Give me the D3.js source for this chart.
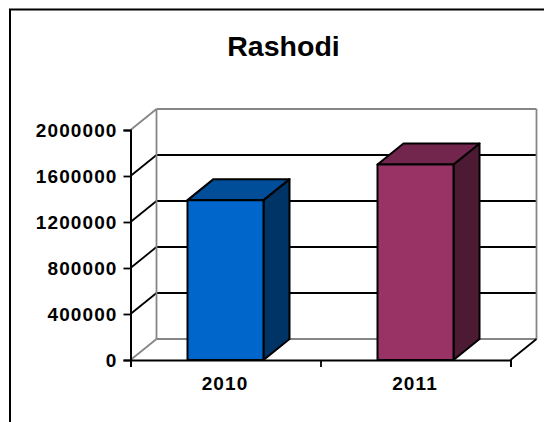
<!DOCTYPE html>
<html>
<head>
<meta charset="utf-8">
<script src="https://cdn.jsdelivr.net/npm/d3@7/dist/d3.min.js"></script>
<style>
  html, body { margin: 0; padding: 0; background: #fff; overflow: hidden; }
  svg { display: block; }
  text { font-family: "Liberation Sans", Arial, sans-serif; font-weight: bold; fill: #000; }
</style>
</head>
<body>
<div id="vis"></div>
<script>
// chart data
const YEARS = ["2010", "2011"];
const VALUES = [1390000, 1700000];
const Y_TICKS = [0, 400000, 800000, 1200000, 1600000, 2000000];
const TITLE = "Rashodi";

const FRONT_COLORS = ["#0066cc", "#993366"];
const TOP_COLORS = ["#004d99", "#73264d"];
const SIDE_COLORS = ["#003366", "#4d1a33"];

// set constants
const FRAME_WIDTH = 544;
const FRAME_HEIGHT = 422;
const PLOT = {left: 130.5, right: 510.5, top: 130, bottom: 360};
const DEPTH = {x: 26, y: -21};

const FRAME = d3.select("#vis")
  .append("svg")
    .attr("width", FRAME_WIDTH)
    .attr("height", FRAME_HEIGHT);

const X_SCALE = d3.scaleBand()
  .domain(YEARS)
  .range([PLOT.left, PLOT.right])
  .paddingInner(0.6)
  .paddingOuter(0.3);

const Y_SCALE = d3.scaleLinear()
  .domain([0, 2000000])
  .range([PLOT.bottom, PLOT.top]);

// outer border, runs off the right and bottom of the picture
FRAME.append("path")
  .attr("d", "M10,430V9.5H550")
  .attr("fill", "none")
  .attr("stroke", "#000")
  .attr("stroke-width", 2);

// back wall gridlines
FRAME.append("g").selectAll("line")
  .data(Y_TICKS)
  .enter()
  .append("line")
    .attr("x1", PLOT.left + DEPTH.x)
    .attr("x2", PLOT.right + DEPTH.x)
    .attr("y1", (d) => Y_SCALE(d) + DEPTH.y)
    .attr("y2", (d) => Y_SCALE(d) + DEPTH.y)
    .attr("stroke", (d) => (d === 0 || d === 2000000) ? "#868686" : "#000")
    .attr("stroke-width", 1.8);

// side wall gridlines
FRAME.append("g").selectAll("line")
  .data(Y_TICKS)
  .enter()
  .append("line")
    .attr("x1", PLOT.left)
    .attr("x2", PLOT.left + DEPTH.x)
    .attr("y1", (d) => Y_SCALE(d))
    .attr("y2", (d) => Y_SCALE(d) + DEPTH.y)
    .attr("stroke", (d) => (d === 0 || d === 2000000) ? "#868686" : "#000")
    .attr("stroke-width", 1.8);

// back wall verticals
FRAME.append("g").selectAll("line")
  .data([PLOT.left + DEPTH.x, PLOT.right + DEPTH.x])
  .enter()
  .append("line")
    .attr("x1", (d) => d)
    .attr("x2", (d) => d)
    .attr("y1", PLOT.top + DEPTH.y)
    .attr("y2", PLOT.bottom + DEPTH.y)
    .attr("stroke", "#868686")
    .attr("stroke-width", 1.8);

// floor edge on the right
FRAME.append("line")
  .attr("x1", PLOT.right)
  .attr("x2", PLOT.right + DEPTH.x)
  .attr("y1", PLOT.bottom)
  .attr("y2", PLOT.bottom + DEPTH.y)
  .attr("stroke", "#000")
  .attr("stroke-width", 1.8);

// bars
const BARS = FRAME.append("g").selectAll("g")
  .data(YEARS)
  .enter()
  .append("g")
    .attr("stroke", "#000")
    .attr("stroke-width", 2)
    .attr("stroke-linejoin", "round");

const barPoly = (pts) => pts.map((p) => p.join(",")).join(" ");

BARS.append("polygon")
  .attr("fill", (d, i) => SIDE_COLORS[i])
  .attr("points", (d, i) => {
    const x = X_SCALE(d) + X_SCALE.bandwidth();
    const y = Y_SCALE(VALUES[i]);
    return barPoly([[x, y], [x + DEPTH.x, y + DEPTH.y], [x + DEPTH.x, PLOT.bottom + DEPTH.y], [x, PLOT.bottom]]);
  });

BARS.append("polygon")
  .attr("fill", (d, i) => TOP_COLORS[i])
  .attr("points", (d, i) => {
    const x = X_SCALE(d);
    const w = X_SCALE.bandwidth();
    const y = Y_SCALE(VALUES[i]);
    return barPoly([[x, y], [x + DEPTH.x, y + DEPTH.y], [x + w + DEPTH.x, y + DEPTH.y], [x + w, y]]);
  });

BARS.append("rect")
  .attr("fill", (d, i) => FRONT_COLORS[i])
  .attr("x", (d) => X_SCALE(d))
  .attr("y", (d, i) => Y_SCALE(VALUES[i]))
  .attr("width", X_SCALE.bandwidth())
  .attr("height", (d, i) => PLOT.bottom - Y_SCALE(VALUES[i]));

// y axis
const Y_AXIS = FRAME.append("g")
  .attr("transform", "translate(" + PLOT.left + ",0)")
  .call(d3.axisLeft(Y_SCALE).tickValues(Y_TICKS).tickFormat(d3.format("d")).tickSize(7).tickPadding(6));

// x axis, ticks sit on the band edges so the labels are added by hand
const X_AXIS = FRAME.append("g")
  .attr("transform", "translate(0," + PLOT.bottom + ")")
  .call(d3.axisBottom(d3.scaleLinear().domain([0, YEARS.length]).range([PLOT.left, PLOT.right]))
    .ticks(YEARS.length).tickSize(7).tickFormat(""));

[Y_AXIS, X_AXIS].forEach((axis) => {
  axis.selectAll("path.domain").attr("stroke", "#000").attr("stroke-width", 2);
  axis.selectAll(".tick line").attr("stroke", "#000").attr("stroke-width", 1.8);
});

Y_AXIS.selectAll("text")
  .style("font-size", "19px")
  .style("letter-spacing", "1.1px")
  .style("font-family", '"Liberation Sans", Arial, sans-serif')
  .style("font-weight", "bold");

FRAME.append("g").selectAll("text")
  .data(YEARS)
  .enter()
  .append("text")
    .attr("x", (d) => X_SCALE(d) + X_SCALE.bandwidth() / 2 - 0.5)
    .attr("y", 390)
    .attr("text-anchor", "middle")
    .style("font-size", "19px")
    .style("letter-spacing", "1.1px")
    .text((d) => d);

// title
FRAME.append("text")
  .attr("x", 283.5)
  .attr("y", 56)
  .attr("text-anchor", "middle")
  .style("font-size", "28.5px")
  .text(TITLE);
</script>
</body>
</html>
